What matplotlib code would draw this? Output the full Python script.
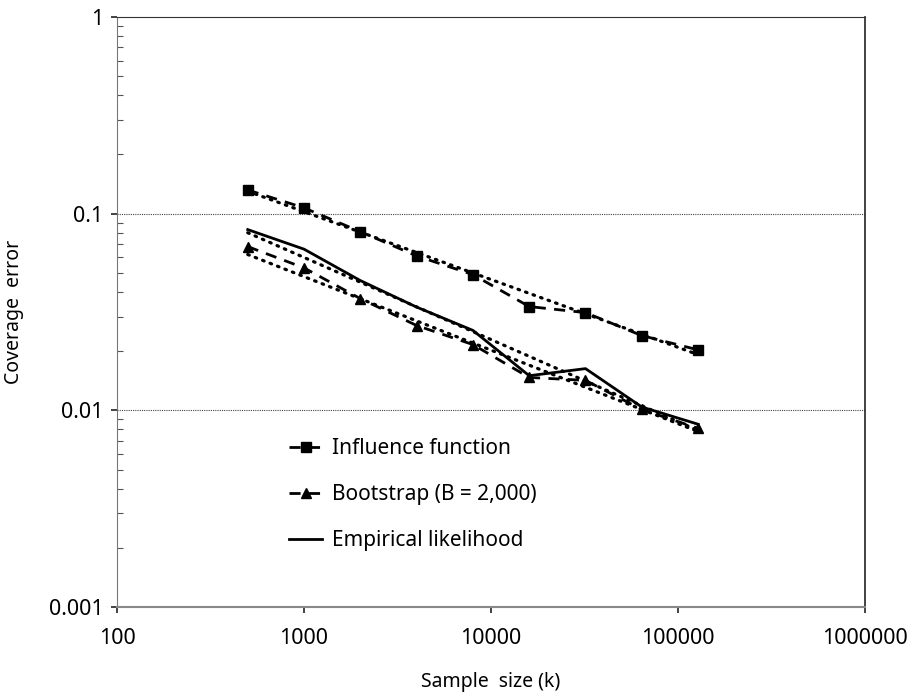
import matplotlib
matplotlib.use("Agg")
from matplotlib import pyplot as plt
from matplotlib.ticker import LogLocator, FixedLocator, NullFormatter

# sample sizes and coverage errors
sample_size = [500, 1000, 2000, 4000, 8000, 16000, 32000, 64000, 128000]
influence = [0.132, 0.107, 0.081, 0.061, 0.049, 0.0337, 0.0314, 0.024, 0.0203]
bootstrap = [0.068, 0.053, 0.037, 0.027, 0.0216, 0.0147, 0.0142, 0.0101, 0.0081]
empirical = [0.083, 0.066, 0.0457, 0.0335, 0.0255, 0.015, 0.0163, 0.0104, 0.0085]

# dotted power-law trend lines (end points)
trend_x = [500, 128000]
influence_trend = [0.130, 0.0192]
bootstrap_trend = [0.062, 0.0078]
empirical_trend = [0.080, 0.0079]

plt.rcParams['font.family'] = ['Noto Sans', 'DejaVu Sans']

fig = plt.figure(figsize=(9.18, 6.97), dpi=100)
ax = fig.add_axes([0.1275, 0.1291, 0.8148, 0.8465])

dot = dict(color='black', linewidth=2.3, linestyle=(0, (0.5, 2.0)),
           dash_capstyle='round', zorder=2)
ax.plot(trend_x, influence_trend, **dot)
ax.plot(trend_x, bootstrap_trend, **dot)
ax.plot(trend_x, empirical_trend, **dot)

ax.plot(sample_size, influence, color='black', linewidth=2, linestyle=(0, (4, 3)),
        marker='s', markersize=7, label='Influence function', zorder=3)
ax.plot(sample_size, bootstrap, color='black', linewidth=2, linestyle=(0, (4, 3)),
        marker='^', markersize=7.5, label='Bootstrap (B = 2,000)', zorder=3)
ax.plot(sample_size, empirical, color='black', linewidth=2, linestyle='-',
        label='Empirical likelihood', zorder=3)

ax.set_xscale('log')
ax.set_yscale('log')
ax.set_xlim(100, 1000000)
ax.set_ylim(0.001, 1)

ax.xaxis.set_major_locator(FixedLocator([100, 1000, 10000, 100000, 1000000]))
ax.set_xticklabels(['100', '1000', '10000', '100000', '1000000'])
ax.xaxis.set_minor_locator(FixedLocator([]))
ax.yaxis.set_major_locator(FixedLocator([0.001, 0.01, 0.1, 1]))
ax.set_yticklabels(['0.001', '0.01', '0.1', '1'])
ax.yaxis.set_minor_locator(LogLocator(base=10, subs=range(2, 10)))
ax.yaxis.set_minor_formatter(NullFormatter())

ax.tick_params(axis='both', which='major', labelsize=15.5, length=4, width=1.2,
               color='#222222', direction='out')
ax.tick_params(axis='y', which='minor', direction='in', length=4, width=0.8,
               color='#555555')
ax.tick_params(axis='x', which='major', pad=11)
ax.tick_params(axis='y', which='major', pad=6)

for yv in [0.01, 0.1]:
    ax.axhline(yv, color='#444444', linewidth=0.8, linestyle=(0, (1, 1)), zorder=1)

ax.spines['left'].set_color('#777777')
ax.spines['bottom'].set_color('#888888')
ax.spines['bottom'].set_linewidth(1.5)
ax.spines['top'].set_color('#333333')
ax.spines['right'].set_color('#222222')
ax.spines['right'].set_linewidth(1.2)

ax.set_xlabel('Sample  size (k)', fontsize=14, labelpad=17)
ax.set_ylabel('Coverage  error', fontsize=14, labelpad=18)

ax.legend(loc='upper left', bbox_to_anchor=(0.205, 0.318), frameon=False,
          fontsize=15, handlelength=1.6, handletextpad=0.45, labelspacing=1.2)

plt.savefig('out.png', dpi=100)
